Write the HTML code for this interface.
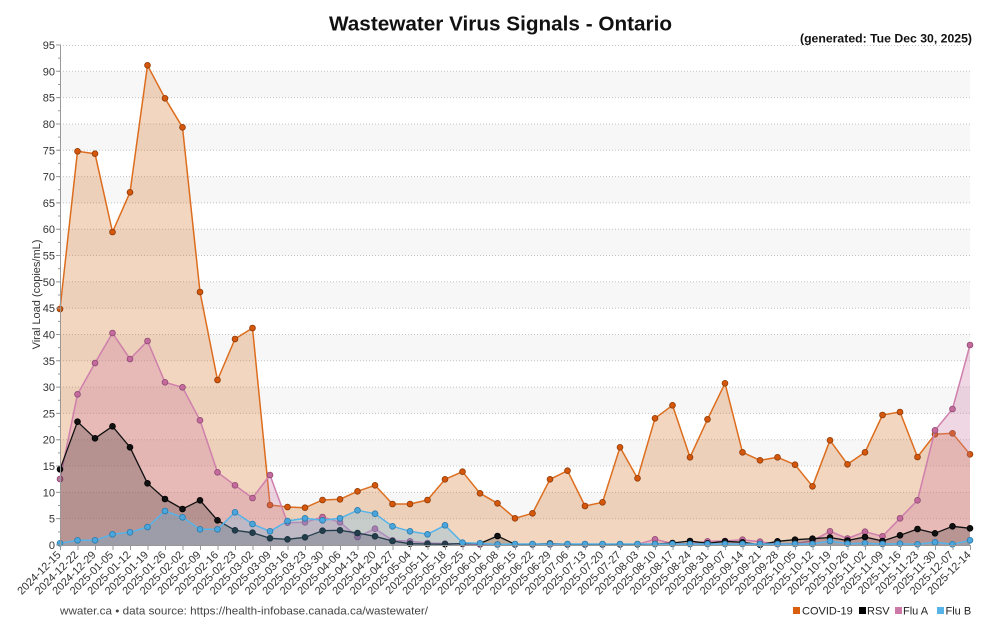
<!DOCTYPE html>
<html><head><meta charset="utf-8"><style>
html,body{margin:0;padding:0;background:#fff;}
svg{display:block;}
</style></head><body>
<svg width="1000" height="625" viewBox="0 0 1000 625" xmlns="http://www.w3.org/2000/svg" font-family="Liberation Sans, DejaVu Sans, sans-serif">
<defs>
<marker id="mc" viewBox="-4 -4 8 8" refX="0" refY="0" markerWidth="8" markerHeight="8" markerUnits="userSpaceOnUse"><circle r="2.9" fill="#d4570c" stroke="#8f3a06" stroke-width="0.8"/></marker>
<marker id="ma" viewBox="-4 -4 8 8" refX="0" refY="0" markerWidth="8" markerHeight="8" markerUnits="userSpaceOnUse"><circle r="2.9" fill="#c46a9c" stroke="#8e4a72" stroke-width="0.8"/></marker>
<marker id="mr" viewBox="-4 -4 8 8" refX="0" refY="0" markerWidth="8" markerHeight="8" markerUnits="userSpaceOnUse"><circle r="2.9" fill="#111" stroke="#000" stroke-width="0.8"/></marker>
<marker id="mb" viewBox="-4 -4 8 8" refX="0" refY="0" markerWidth="8" markerHeight="8" markerUnits="userSpaceOnUse"><circle r="2.9" fill="#4aa6dc" stroke="#2a78a8" stroke-width="0.8"/></marker>
</defs>
<rect width="1000" height="625" fill="#fff"/>
<!-- bands -->
<g fill="#f7f7f7">
<rect x="60" y="71.32" width="910" height="26.32"/>
<rect x="60" y="123.95" width="910" height="26.32"/>
<rect x="60" y="176.58" width="910" height="26.32"/>
<rect x="60" y="229.21" width="910" height="26.32"/>
<rect x="60" y="281.84" width="910" height="26.32"/>
<rect x="60" y="334.47" width="910" height="26.32"/>
<rect x="60" y="387.11" width="910" height="26.32"/>
<rect x="60" y="439.74" width="910" height="26.32"/>
<rect x="60" y="492.37" width="910" height="26.32"/>
</g>
<!-- grid -->
<g stroke="#c4c4c4" stroke-width="1" stroke-dasharray="1,2">
<line x1="60" x2="970" y1="45.5" y2="45.5"/>
<line x1="60" x2="970" y1="71.3" y2="71.3"/>
<line x1="60" x2="970" y1="97.6" y2="97.6"/>
<line x1="60" x2="970" y1="124" y2="124"/>
<line x1="60" x2="970" y1="150.3" y2="150.3"/>
<line x1="60" x2="970" y1="176.6" y2="176.6"/>
<line x1="60" x2="970" y1="202.9" y2="202.9"/>
<line x1="60" x2="970" y1="229.2" y2="229.2"/>
<line x1="60" x2="970" y1="255.5" y2="255.5"/>
<line x1="60" x2="970" y1="281.8" y2="281.8"/>
<line x1="60" x2="970" y1="308.2" y2="308.2"/>
<line x1="60" x2="970" y1="334.5" y2="334.5"/>
<line x1="60" x2="970" y1="360.8" y2="360.8"/>
<line x1="60" x2="970" y1="387.1" y2="387.1"/>
<line x1="60" x2="970" y1="413.4" y2="413.4"/>
<line x1="60" x2="970" y1="439.7" y2="439.7"/>
<line x1="60" x2="970" y1="466" y2="466"/>
<line x1="60" x2="970" y1="492.4" y2="492.4"/>
<line x1="60" x2="970" y1="518.7" y2="518.7"/>
</g>
<!-- COVID -->
<polygon fill="rgba(205,95,10,0.26)" points="60,309 77.5,151.3 95,153.7 112.5,232 130,192.3 147.5,65.3 165,98.3 182.5,127.3 200,292 217.5,380 235,339 252.5,328 270,505 287.5,507 305,507.7 322.5,500 340,499.3 357.5,491.3 375,485.3 392.5,504 410,504 427.5,500 445,479.3 462.5,471.7 480,493.3 497.5,503.3 515,518.3 532.5,513.3 550,479.3 567.5,470.7 585,506 602.5,502.3 620,447.3 637.5,478.3 655,418.3 672.5,405.3 690,457.3 707.5,419.3 725,383.3 742.5,452.3 760,460.3 777.5,457.3 795,464.7 812.5,486.3 830,440.3 847.5,464.3 865,452.3 882.5,415 900,412 917.5,457 935,434.3 952.5,433.3 970,454.3 970,545 60,545"/>
<polyline fill="none" stroke="#dd6d1e" stroke-width="1.5" stroke-linejoin="round" marker-start="url(#mc)" marker-mid="url(#mc)" marker-end="url(#mc)" points="60,309 77.5,151.3 95,153.7 112.5,232 130,192.3 147.5,65.3 165,98.3 182.5,127.3 200,292 217.5,380 235,339 252.5,328 270,505 287.5,507 305,507.7 322.5,500 340,499.3 357.5,491.3 375,485.3 392.5,504 410,504 427.5,500 445,479.3 462.5,471.7 480,493.3 497.5,503.3 515,518.3 532.5,513.3 550,479.3 567.5,470.7 585,506 602.5,502.3 620,447.3 637.5,478.3 655,418.3 672.5,405.3 690,457.3 707.5,419.3 725,383.3 742.5,452.3 760,460.3 777.5,457.3 795,464.7 812.5,486.3 830,440.3 847.5,464.3 865,452.3 882.5,415 900,412 917.5,457 935,434.3 952.5,433.3 970,454.3"/>
<!-- Flu A -->
<polygon fill="rgba(204,121,167,0.3)" points="60,479 77.5,394.3 95,363 112.5,333 130,359 147.5,341 165,382.3 182.5,387.3 200,420.3 217.5,472.3 235,485.3 252.5,498 270,475 287.5,522.7 305,522.3 322.5,517 340,522.3 357.5,537 375,528.7 392.5,540.3 410,541.3 427.5,543 445,543.5 462.5,544 480,544.5 497.5,544.5 515,544.5 532.5,544.5 550,544.5 567.5,544.5 585,544.5 602.5,544.5 620,544.5 637.5,544.3 655,539.3 672.5,543.5 690,544 707.5,541.3 725,541 742.5,539.7 760,541.7 777.5,544 795,543.5 812.5,540.7 830,531.3 847.5,538.5 865,531.7 882.5,536.3 900,518.3 917.5,500.3 935,430.3 952.5,409 970,345 970,545 60,545"/>
<polyline fill="none" stroke="#cf7fab" stroke-width="1.5" stroke-linejoin="round" marker-start="url(#ma)" marker-mid="url(#ma)" marker-end="url(#ma)" points="60,479 77.5,394.3 95,363 112.5,333 130,359 147.5,341 165,382.3 182.5,387.3 200,420.3 217.5,472.3 235,485.3 252.5,498 270,475 287.5,522.7 305,522.3 322.5,517 340,522.3 357.5,537 375,528.7 392.5,540.3 410,541.3 427.5,543 445,543.5 462.5,544 480,544.5 497.5,544.5 515,544.5 532.5,544.5 550,544.5 567.5,544.5 585,544.5 602.5,544.5 620,544.5 637.5,544.3 655,539.3 672.5,543.5 690,544 707.5,541.3 725,541 742.5,539.7 760,541.7 777.5,544 795,543.5 812.5,540.7 830,531.3 847.5,538.5 865,531.7 882.5,536.3 900,518.3 917.5,500.3 935,430.3 952.5,409 970,345"/>
<!-- RSV -->
<polygon fill="rgba(0,0,0,0.2)" points="60,469.3 77.5,421.7 95,438.3 112.5,426.3 130,447.3 147.5,483.3 165,499 182.5,509 200,500.3 217.5,520.3 235,530.3 252.5,532.7 270,538.3 287.5,539.3 305,537.3 322.5,530.7 340,530.3 357.5,533 375,536.3 392.5,541 410,543.7 427.5,544 445,544.2 462.5,543.5 480,543.5 497.5,536 515,544.3 532.5,544.3 550,543.5 567.5,544.3 585,544.3 602.5,544.3 620,544.3 637.5,544.3 655,544 672.5,543 690,541 707.5,543.3 725,541.3 742.5,542.3 760,544.8 777.5,541.3 795,539.7 812.5,538.7 830,537.5 847.5,540.5 865,537 882.5,541 900,535.3 917.5,529 935,533.3 952.5,526.3 970,528.3 970,545 60,545"/>
<polyline fill="none" stroke="#111" stroke-width="1.3" stroke-linejoin="round" marker-start="url(#mr)" marker-mid="url(#mr)" marker-end="url(#mr)" points="60,469.3 77.5,421.7 95,438.3 112.5,426.3 130,447.3 147.5,483.3 165,499 182.5,509 200,500.3 217.5,520.3 235,530.3 252.5,532.7 270,538.3 287.5,539.3 305,537.3 322.5,530.7 340,530.3 357.5,533 375,536.3 392.5,541 410,543.7 427.5,544 445,544.2 462.5,543.5 480,543.5 497.5,536 515,544.3 532.5,544.3 550,543.5 567.5,544.3 585,544.3 602.5,544.3 620,544.3 637.5,544.3 655,544 672.5,543 690,541 707.5,543.3 725,541.3 742.5,542.3 760,544.8 777.5,541.3 795,539.7 812.5,538.7 830,537.5 847.5,540.5 865,537 882.5,541 900,535.3 917.5,529 935,533.3 952.5,526.3 970,528.3"/>
<!-- Flu B -->
<polygon fill="rgba(86,180,233,0.27)" points="60,543.3 77.5,540.3 95,540.3 112.5,534.3 130,532.3 147.5,527 165,511 182.5,517.3 200,529.3 217.5,529.3 235,512.3 252.5,524 270,531.3 287.5,521 305,518.3 322.5,520.3 340,518.3 357.5,510.3 375,513.7 392.5,526.3 410,531.3 427.5,534.3 445,525.3 462.5,542.7 480,543.3 497.5,544.5 515,544 532.5,544 550,544 567.5,544 585,544 602.5,544 620,544 637.5,544 655,544 672.5,544 690,544 707.5,544 725,544 742.5,544 760,544 777.5,544 795,544 812.5,544 830,541 847.5,543.7 865,543.3 882.5,544 900,543.7 917.5,544.3 935,542.3 952.5,544.3 970,540.3 970,545 60,545"/>
<polyline fill="none" stroke="#56b4e9" stroke-width="1.5" stroke-linejoin="round" marker-start="url(#mb)" marker-mid="url(#mb)" marker-end="url(#mb)" points="60,543.3 77.5,540.3 95,540.3 112.5,534.3 130,532.3 147.5,527 165,511 182.5,517.3 200,529.3 217.5,529.3 235,512.3 252.5,524 270,531.3 287.5,521 305,518.3 322.5,520.3 340,518.3 357.5,510.3 375,513.7 392.5,526.3 410,531.3 427.5,534.3 445,525.3 462.5,542.7 480,543.3 497.5,544.5 515,544 532.5,544 550,544 567.5,544 585,544 602.5,544 620,544 637.5,544 655,544 672.5,544 690,544 707.5,544 725,544 742.5,544 760,544 777.5,544 795,544 812.5,544 830,541 847.5,543.7 865,543.3 882.5,544 900,543.7 917.5,544.3 935,542.3 952.5,544.3 970,540.3"/>
<!-- axes -->
<line x1="60.5" y1="45" x2="60.5" y2="545.5" stroke="#999" stroke-width="1"/>
<line x1="60" y1="545.5" x2="970" y2="545.5" stroke="#999" stroke-width="1"/>
<line x1="59" y1="545.5" x2="59" y2="44" stroke="#999" stroke-width="2" stroke-dasharray="1 12.158"/>
<line x1="58.5" y1="545.5" x2="58.5" y2="44" stroke="#999" stroke-width="5" stroke-dasharray="1 25.316"/>
<line x1="60" y1="547.5" x2="971" y2="547.5" stroke="#999" stroke-width="5" stroke-dasharray="1 16.5"/>
<!-- y labels -->
<g font-size="11" fill="#333" text-anchor="end">
<text x="55" y="49">95</text>
<text x="55" y="75.3">90</text>
<text x="55" y="101.6">85</text>
<text x="55" y="128">80</text>
<text x="55" y="154.3">75</text>
<text x="55" y="180.6">70</text>
<text x="55" y="206.9">65</text>
<text x="55" y="233.2">60</text>
<text x="55" y="259.5">55</text>
<text x="55" y="285.8">50</text>
<text x="55" y="312.2">45</text>
<text x="55" y="338.5">40</text>
<text x="55" y="364.8">35</text>
<text x="55" y="391.1">30</text>
<text x="55" y="417.4">25</text>
<text x="55" y="443.7">20</text>
<text x="55" y="470">15</text>
<text x="55" y="496.4">10</text>
<text x="55" y="522.7">5</text>
<text x="55" y="549">0</text>
</g>
<text transform="translate(40,294.5) rotate(-90)" font-size="11" fill="#333" text-anchor="middle">Viral Load (copies/mL)</text>
<!-- x labels -->
<g font-size="11" fill="#333" text-anchor="end">
<text transform="translate(61.5,555.5) rotate(-45)">2024-12-15</text>
<text transform="translate(79,555.5) rotate(-45)">2024-12-22</text>
<text transform="translate(96.5,555.5) rotate(-45)">2024-12-29</text>
<text transform="translate(114,555.5) rotate(-45)">2025-01-05</text>
<text transform="translate(131.5,555.5) rotate(-45)">2025-01-12</text>
<text transform="translate(149,555.5) rotate(-45)">2025-01-19</text>
<text transform="translate(166.5,555.5) rotate(-45)">2025-01-26</text>
<text transform="translate(184,555.5) rotate(-45)">2025-02-02</text>
<text transform="translate(201.5,555.5) rotate(-45)">2025-02-09</text>
<text transform="translate(219,555.5) rotate(-45)">2025-02-16</text>
<text transform="translate(236.5,555.5) rotate(-45)">2025-02-23</text>
<text transform="translate(254,555.5) rotate(-45)">2025-03-02</text>
<text transform="translate(271.5,555.5) rotate(-45)">2025-03-09</text>
<text transform="translate(289,555.5) rotate(-45)">2025-03-16</text>
<text transform="translate(306.5,555.5) rotate(-45)">2025-03-23</text>
<text transform="translate(324,555.5) rotate(-45)">2025-03-30</text>
<text transform="translate(341.5,555.5) rotate(-45)">2025-04-06</text>
<text transform="translate(359,555.5) rotate(-45)">2025-04-13</text>
<text transform="translate(376.5,555.5) rotate(-45)">2025-04-20</text>
<text transform="translate(394,555.5) rotate(-45)">2025-04-27</text>
<text transform="translate(411.5,555.5) rotate(-45)">2025-05-04</text>
<text transform="translate(429,555.5) rotate(-45)">2025-05-11</text>
<text transform="translate(446.5,555.5) rotate(-45)">2025-05-18</text>
<text transform="translate(464,555.5) rotate(-45)">2025-05-25</text>
<text transform="translate(481.5,555.5) rotate(-45)">2025-06-01</text>
<text transform="translate(499,555.5) rotate(-45)">2025-06-08</text>
<text transform="translate(516.5,555.5) rotate(-45)">2025-06-15</text>
<text transform="translate(534,555.5) rotate(-45)">2025-06-22</text>
<text transform="translate(551.5,555.5) rotate(-45)">2025-06-29</text>
<text transform="translate(569,555.5) rotate(-45)">2025-07-06</text>
<text transform="translate(586.5,555.5) rotate(-45)">2025-07-13</text>
<text transform="translate(604,555.5) rotate(-45)">2025-07-20</text>
<text transform="translate(621.5,555.5) rotate(-45)">2025-07-27</text>
<text transform="translate(639,555.5) rotate(-45)">2025-08-03</text>
<text transform="translate(656.5,555.5) rotate(-45)">2025-08-10</text>
<text transform="translate(674,555.5) rotate(-45)">2025-08-17</text>
<text transform="translate(691.5,555.5) rotate(-45)">2025-08-24</text>
<text transform="translate(709,555.5) rotate(-45)">2025-08-31</text>
<text transform="translate(726.5,555.5) rotate(-45)">2025-09-07</text>
<text transform="translate(744,555.5) rotate(-45)">2025-09-14</text>
<text transform="translate(761.5,555.5) rotate(-45)">2025-09-21</text>
<text transform="translate(779,555.5) rotate(-45)">2025-09-28</text>
<text transform="translate(796.5,555.5) rotate(-45)">2025-10-05</text>
<text transform="translate(814,555.5) rotate(-45)">2025-10-12</text>
<text transform="translate(831.5,555.5) rotate(-45)">2025-10-19</text>
<text transform="translate(849,555.5) rotate(-45)">2025-10-26</text>
<text transform="translate(866.5,555.5) rotate(-45)">2025-11-02</text>
<text transform="translate(884,555.5) rotate(-45)">2025-11-09</text>
<text transform="translate(901.5,555.5) rotate(-45)">2025-11-16</text>
<text transform="translate(919,555.5) rotate(-45)">2025-11-23</text>
<text transform="translate(936.5,555.5) rotate(-45)">2025-11-30</text>
<text transform="translate(954,555.5) rotate(-45)">2025-12-07</text>
<text transform="translate(971.5,555.5) rotate(-45)">2025-12-14</text>
</g>
<!-- title -->
<text x="500.5" y="30.5" font-size="20" font-weight="bold" fill="#111" text-anchor="middle" textLength="343" lengthAdjust="spacingAndGlyphs">Wastewater Virus Signals - Ontario</text>
<text x="972" y="42.5" font-size="12" font-weight="bold" fill="#111" text-anchor="end" textLength="172" lengthAdjust="spacingAndGlyphs">(generated: Tue Dec 30, 2025)</text>
<!-- footer -->
<text x="60" y="614.5" font-size="11" fill="#444" textLength="368" lengthAdjust="spacingAndGlyphs">wwater.ca • data source: https://health-infobase.canada.ca/wastewater/</text>
<!-- legend -->
<g font-size="11" fill="#222">
<rect x="793" y="607" width="7" height="7" fill="#d95f0e"/>
<text x="802" y="614.5">COVID-19</text>
<rect x="859" y="607" width="7" height="7" fill="#000"/>
<text x="867" y="614.5">RSV</text>
<rect x="895" y="607" width="7" height="7" fill="#cc79a7"/>
<text x="903" y="614.5">Flu A</text>
<rect x="937" y="607" width="7" height="7" fill="#56b4e9"/>
<text x="945.5" y="614.5">Flu B</text>
</g>
</svg>
</body></html>
